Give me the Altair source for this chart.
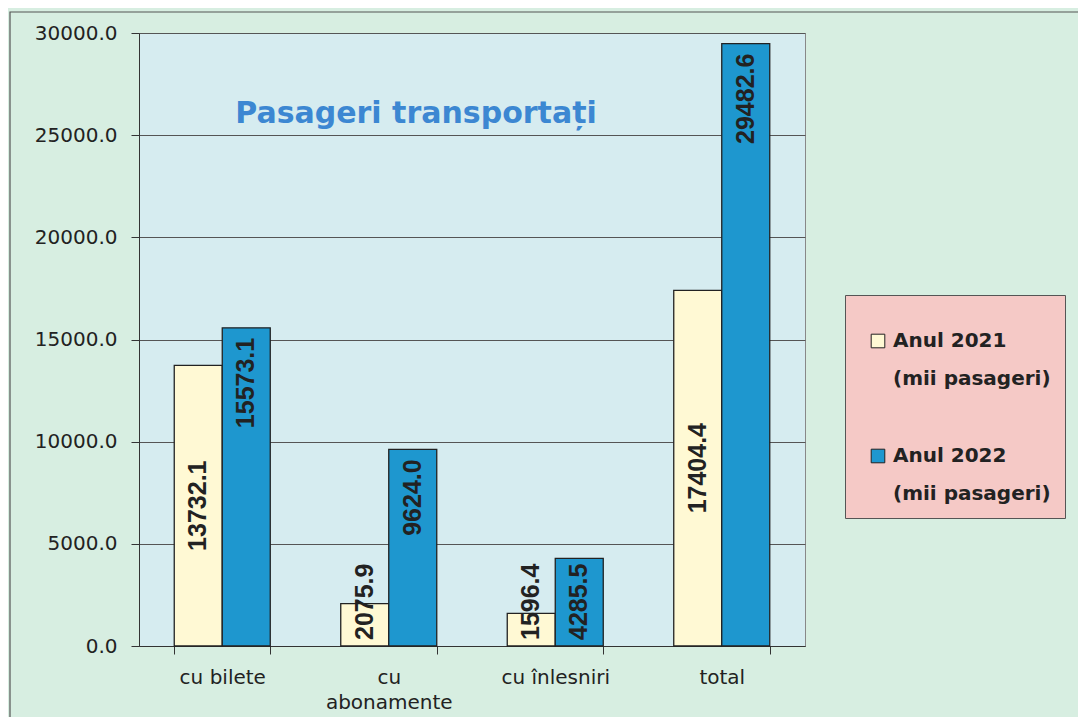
import altair as alt
import pandas as pd

categories = ["cu bilete", "cu abonamente", "cu înlesniri", "total"]
years = ["Anul 2021|(mii pasageri)", "Anul 2022|(mii pasageri)"]
values_2021 = [13732.1, 2075.9, 1596.4, 17404.4]
values_2022 = [15573.1, 9624.0, 4285.5, 29482.6]
y_ticks = [0, 5000, 10000, 15000, 20000, 25000, 30000]
title_text = ["Pasageri transportați"]
colors = ["#fff9d4", "#1e97cf"]

rows = []
for c, a, b in zip(categories, values_2021, values_2022):
    rows.append({"cat": c, "year": years[0], "value": a})
    rows.append({"cat": c, "year": years[1], "value": b})
df = pd.DataFrame(rows)

x_enc = alt.X(
    "cat:N", sort=categories,
    scale=alt.Scale(paddingInner=0.4234, paddingOuter=0.2117),
    axis=alt.Axis(
        title=None, labelAngle=0, tickBand="extent", grid=False,
        labelExpr="length(datum.label) > 12 ? split(datum.label, ' ') : datum.label",
        labelFont="DejaVu Sans", labelFontSize=20, labelColor="#222",
        labelLineHeight=25, labelPadding=13, labelBaseline="top",
        tickSize=8, tickColor="#333", domainColor="#333", domainWidth=1,
    ),
)
xoff = alt.XOffset("year:N", sort=years)
y_scale = alt.Scale(domain=[0, 30000], nice=False, zero=True)

bars = alt.Chart(df).mark_bar(stroke="#222", strokeWidth=1.3).encode(
    x=x_enc,
    xOffset=xoff,
    y=alt.Y("value:Q", scale=y_scale, axis=alt.Axis(
        title=None, values=y_ticks, format=".1f", grid=True,
        gridColor="#555", gridWidth=1, labelFont="DejaVu Sans",
        labelFontSize=20, labelColor="#222", labelPadding=14,
        tickSize=8, tickColor="#333",
        domainColor="#333", domainWidth=1)),
    color=alt.Color("year:N", sort=years,
                    scale=alt.Scale(domain=years, range=colors),
                    legend=alt.Legend(
                        title=" ", titleFontSize=10, titlePadding=12,
                        orient="none", legendX=706, legendY=262,
                        padding=14, symbolOffset=9, fillColor="#f5c9c6",
                        strokeColor="#555", symbolType="square",
                        symbolSize=185, symbolStrokeColor="#222",
                        symbolStrokeWidth=1, labelFont="DejaVu Sans",
                        labelFontSize=20, labelFontWeight="bold",
                        labelColor="#222", labelOffset=5, labelLimit=400,
                        rowPadding=57,
                        labelExpr="split(datum.label, '|')")),
)

text_base = dict(angle=270, font="Liberation Sans", fontWeight="bold",
                 fontSize=25, color="#222", baseline="middle")

lbl_top = alt.Chart(df).transform_filter(
    f"datum.year == '{years[1]}' && datum.value > 5000"
).mark_text(align="right", dx=-10, **text_base).encode(
    x=alt.X("cat:N", sort=categories), xOffset=xoff,
    y=alt.Y("value:Q", scale=y_scale),
    text=alt.Text("value:Q", format=".1f"),
)

lbl_mid = alt.Chart(df).transform_filter(
    f"datum.year == '{years[0]}' && datum.value > 5000"
).transform_calculate(half="datum.value / 2").mark_text(
    align="center", **text_base).encode(
    x=alt.X("cat:N", sort=categories), xOffset=xoff,
    y=alt.Y("half:Q", scale=y_scale),
    text=alt.Text("value:Q", format=".1f"),
)

lbl_low = alt.Chart(df).transform_filter(
    "datum.value <= 5000"
).transform_calculate(base="0").mark_text(
    align="left", dx=6, **text_base).encode(
    x=alt.X("cat:N", sort=categories), xOffset=xoff,
    y=alt.Y("base:Q", scale=y_scale),
    text=alt.Text("value:Q", format=".1f"),
)

title = alt.Chart(pd.DataFrame({"t": title_text})).mark_text(
    font="DejaVu Sans", fontWeight="bold", fontSize=30, color="#3c87d2",
    align="center", baseline="alphabetic",
).encode(text="t:N", x=alt.value(277), y=alt.value(90))

frame = alt.Chart(pd.DataFrame({"t": [0]})).mark_rect(
    fillOpacity=0, stroke="#555", strokeWidth=1.2
).encode(x=alt.value(-129), x2=alt.value(960), y=alt.value(-21), y2=alt.value(720))

chart = alt.layer(bars, lbl_top, lbl_mid, lbl_low, title, frame).properties(
    width=666, height=613,
    padding={"left": 131, "top": 25, "right": 273, "bottom": 71},
    autosize=alt.AutoSizeParams(type="none"),
    background="#d7eee1",
).configure(
    style={"guide-label": {"lineHeight": 38}}
).configure_view(fill="#d6ecf0", stroke="#888", strokeWidth=1)

chart.save("out.html", embed_options={"renderer": "svg", "actions": False})
